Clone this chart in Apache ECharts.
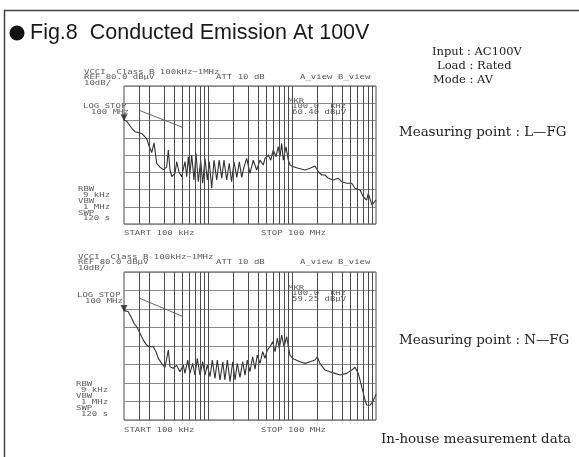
<!DOCTYPE html>
<html>
<head>
<meta charset="utf-8">
<script src="https://cdn.jsdelivr.net/npm/echarts@6/dist/echarts.min.js"></script>
<style>
html, body { margin: 0; padding: 0; background: #fff; }
#chart { width: 579px; height: 457px; }
</style>
</head>
<body>
<div id="chart"></div>
<script>
'use strict';
// frequencies in MHz, levels in dBuV

// vertical grid lines of the analyser plot
const gridFreqs = [0.15, 0.2, 0.3, 0.4, 0.5, 0.6, 0.7, 0.8, 0.9,
    1, 2, 3, 4, 5, 6, 7, 8, 9,
    10, 20, 30, 40, 50, 60, 70, 80, 90];

// limit line drawn by the analyser
const limitFreq = [0.15, 0.5];
const limitLevel = [66, 56];

// marker readout at 100 kHz
const markerFreq = 0.1;
const markerLevels = [60.40, 59.25];

// L-FG trace
const freqL = [0.1, 0.108, 0.124, 0.135, 0.1625, 0.186, 0.2, 0.214, 0.228, 0.245,
    0.268, 0.294, 0.322, 0.337, 0.353, 0.37, 0.405, 0.424, 0.452, 0.486,
    0.532, 0.558, 0.583, 0.61, 0.64, 0.681, 0.72, 0.767, 0.819, 0.865,
    0.921, 0.981, 1.036, 1.107, 1.18, 1.27, 1.36, 1.46, 1.55, 1.67,
    1.79, 1.91, 2.04, 2.2, 2.36, 2.52, 2.68, 2.89, 3.16, 3.46,
    3.8, 4.16, 4.55, 4.77, 5.22, 5.58, 5.99, 6.45, 6.87, 7.19,
    7.54, 7.88, 8.48, 9.04, 9.46, 10.4, 11.9, 14.3, 16.4, 18.8,
    20.6, 22.6, 24.7, 27.1, 31, 35.6, 39.1, 44.8, 51.4, 56.2,
    64.6, 70.6, 77.4, 80.9, 89.6, 100];
const levelL = [60.4, 59.5, 55.5, 53.5, 52.5, 49.5, 44.8, 41.5, 47, 35.2,
    33, 31.5, 33, 42.9, 31.3, 27.4, 29.4, 36.1, 30, 27.4,
    36.1, 27.4, 39, 29, 40, 25.5, 41, 24.5, 37, 23.6,
    38, 25.5, 36.1, 20.7, 37, 25.5, 37, 26.5, 37, 25.5,
    35.2, 24.5, 36, 27, 36, 27, 33, 38, 29.4, 37,
    31.3, 37, 34.2, 38, 40, 37, 42.9, 39, 44.8, 39,
    46.8, 37, 44.8, 37, 34.2, 33.2, 32.3, 31.3, 32.3, 33.6,
    30.3, 28.4, 28.4, 26.5, 25.5, 26.5, 24.5, 23.6, 23.6, 20.7,
    19.7, 15.8, 13.9, 17.8, 11, 14];

// N-FG trace
const freqN = [0.1, 0.1125, 0.1235, 0.1315, 0.1416, 0.155, 0.1697, 0.186, 0.2, 0.223,
    0.2404, 0.256, 0.281, 0.3076, 0.322, 0.337, 0.353, 0.386, 0.424, 0.464,
    0.508, 0.532, 0.573, 0.61, 0.657, 0.7, 0.746, 0.803, 0.865, 0.921,
    0.981, 1.057, 1.125, 1.211, 1.29, 1.39, 1.5, 1.59, 1.7, 1.83,
    1.97, 2.1, 2.23, 2.4, 2.59, 2.76, 2.94, 3.16, 3.4, 3.63,
    3.86, 4.16, 4.48, 4.77, 5.08, 5.47, 5.89, 6.28, 6.69, 7.06,
    7.54, 8.03, 8.65, 9.04, 9.46, 10.2, 11.2, 12.4, 14.3, 16.4,
    18.8, 20, 21.5, 24.7, 28.3, 32.5, 37.3, 44.8, 51.4, 56.2,
    61.5, 67.6, 74, 77.4, 84.9, 92.9, 100];
const levelN = [59.25, 58.5, 55, 52.3, 50.4, 46.9, 43.2, 40.5, 39.6, 39.6,
    36.9, 33.3, 30.6, 28.5, 29.5, 37.8, 28.8, 28, 29.5, 26.1,
    29.7, 25.2, 32.4, 25.2, 30.6, 24.3, 33.3, 24.3, 31.5, 24.3,
    29.7, 23.4, 32.4, 22.5, 32.4, 21.6, 31.5, 21.6, 32.4, 20.7,
    31.5, 21.6, 30.6, 23, 31.5, 24.3, 32.4, 26.1, 34.2, 27.5,
    35.1, 30.6, 36.9, 33.3, 37.8, 39.6, 42.3, 37, 44.2, 38.8,
    45.9, 39.6, 45, 39.6, 35.1, 33.3, 32.4, 31.5, 30.6, 31.5,
    32.4, 34.2, 30.6, 27, 26.1, 25.2, 24.3, 25.2, 27, 28.5,
    25.2, 18, 10.8, 8.1, 8, 10.5, 14];

const pairs = (xs, ys) => xs.map((x, i) => [x, ys[i]]);

const plotFont = "9px 'DejaVu Sans Mono'";
const plotInk = '#5c5c5c';
const infoFont = "11.5px 'DejaVu Serif'";
const noteFont = "13.4px 'DejaVu Serif'";

function txt(x, y, s, font, fill, sy) {
    return {
        type: 'text', x: x, y: y, silent: true, scaleY: sy || 1,
        style: { text: s, font: font, fill: fill, align: 'left', verticalAlign: 'middle' },
    };
}

// analyser printout texts; o holds per-block offsets for the second print
function plotTexts(o, mkr) {
    const p = (x, y, s) => txt(x, y, s, plotFont, plotInk, 0.72);
    return [
        p(84 + o.lx, 72 + o.top, 'VCCI  Class B 100kHz~1MHz'),
        p(84 + o.lx, 77.5 + o.top, 'REF 80.0 dBμV'),
        p(84 + o.lx, 83 + o.top, '10dB/'),
        p(216, 77.5 + o.top, 'ATT 10 dB'),
        p(300, 77.5 + o.top, 'A_view B_view'),
        p(83 + o.lx, 106.5 + o.log, 'LOG STOP'),
        p(91 + o.lx, 112.5 + o.log, '100 MHz'),
        p(288, 101 + o.mkr, 'MKR'),
        p(292, 106.5 + o.mkr, '100.0  kHz'),
        p(292, 112.5 + o.mkr, mkr.toFixed(2) + ' dBμV'),
        p(78 + o.rx, 189 + o.bw, 'RBW'),
        p(83 + o.rx, 195 + o.bw, '9 kHz'),
        p(78 + o.rx, 201 + o.bw, 'VBW'),
        p(83 + o.rx, 207 + o.bw, '1 MHz'),
        p(78 + o.rx, 213 + o.bw, 'SWP'),
        p(83 + o.rx, 218.5 + o.bw, '120 s'),
        p(124, 233 + o.bottom, 'START 100 kHz'),
        p(261, 233 + o.bottom, 'STOP 100 MHz'),
    ];
}

function axesFor(i) {
    return {
        x: {
            type: 'log', logBase: 10, min: 0.1, max: 100, gridIndex: i,
            axisLine: { show: false }, axisTick: { show: false },
            axisLabel: { show: false }, splitLine: { show: false },
        },
        y: {
            type: 'value', min: 0, max: 80, interval: 10, gridIndex: i,
            axisLine: { show: false }, axisTick: { show: false },
            axisLabel: { show: false },
            splitLine: { show: true, lineStyle: { color: '#8a8a8a', width: 1 } },
        },
    };
}

function seriesFor(i, freqs, levels) {
    return [
        {
            type: 'line', xAxisIndex: i, yAxisIndex: i,
            data: pairs(limitFreq, limitLevel),
            symbol: 'none', silent: true,
            lineStyle: { color: '#666', width: 1 },
            markLine: {
                silent: true, symbol: ['none', 'none'],
                label: { show: false },
                lineStyle: { color: '#4a4a4a', width: 1, type: 'solid' },
                data: gridFreqs.map((f) => ({ xAxis: f })),
            },
        },
        {
            type: 'line', xAxisIndex: i, yAxisIndex: i,
            data: pairs(freqs, levels),
            symbol: 'none', silent: true,
            lineStyle: { color: '#333', width: 1.1 },
        },
        {
            type: 'scatter', xAxisIndex: i, yAxisIndex: i,
            data: [[markerFreq, markerLevels[i]]],
            symbol: 'triangle', symbolRotate: 180, symbolSize: 7,
            symbolOffset: [0, -2], clip: false, silent: true,
            itemStyle: { color: '#222' },
        },
    ];
}

function init() {
    const chart = echarts.init(document.getElementById('chart'));
    const a0 = axesFor(0);
    const a1 = axesFor(1);
    const first = { lx: 0, rx: 0, top: 0, log: 0, mkr: 0, bw: 0, bottom: 0 };
    const second = { lx: -6, rx: -2, top: 185, log: 188.5, mkr: 187, bw: 195.5, bottom: 197.5 };
    const option = {
        animation: false,
        backgroundColor: '#fff',
        grid: [
            { left: 124, top: 86, width: 252, height: 138, show: true, borderColor: '#4a4a4a', borderWidth: 1 },
            { left: 124, top: 272, width: 252, height: 148, show: true, borderColor: '#4a4a4a', borderWidth: 1 },
        ],
        xAxis: [a0.x, a1.x],
        yAxis: [a0.y, a1.y],
        series: seriesFor(0, freqL, levelL).concat(seriesFor(1, freqN, levelN)),
        graphic: [
            {
                type: 'polyline', silent: true,
                shape: { points: [[4.5, 457], [4.5, 10.5], [579, 10.5]] },
                style: { stroke: '#444', lineWidth: 1.5, fill: null },
            },
            { type: 'circle', silent: true, shape: { cx: 17, cy: 33, r: 7.5 }, style: { fill: '#111' } },
            txt(30, 33, 'Fig.8  Conducted Emission At 100V', "21.5px 'Liberation Sans'", '#1a1a1a'),
            txt(432, 52, 'Input : AC100V', infoFont, '#222'),
            txt(437, 66, 'Load : Rated', infoFont, '#222'),
            txt(433, 80, 'Mode : AV', infoFont, '#222'),
            txt(399, 133, 'Measuring point : L—FG', noteFont, '#222'),
            txt(399, 341, 'Measuring point : N—FG', noteFont, '#222'),
            txt(381, 440, 'In-house measurement data', noteFont, '#222'),
        ].concat(plotTexts(first, markerLevels[0]), plotTexts(second, markerLevels[1])),
    };
    chart.setOption(option);
}

init();
</script>
</body>
</html>
